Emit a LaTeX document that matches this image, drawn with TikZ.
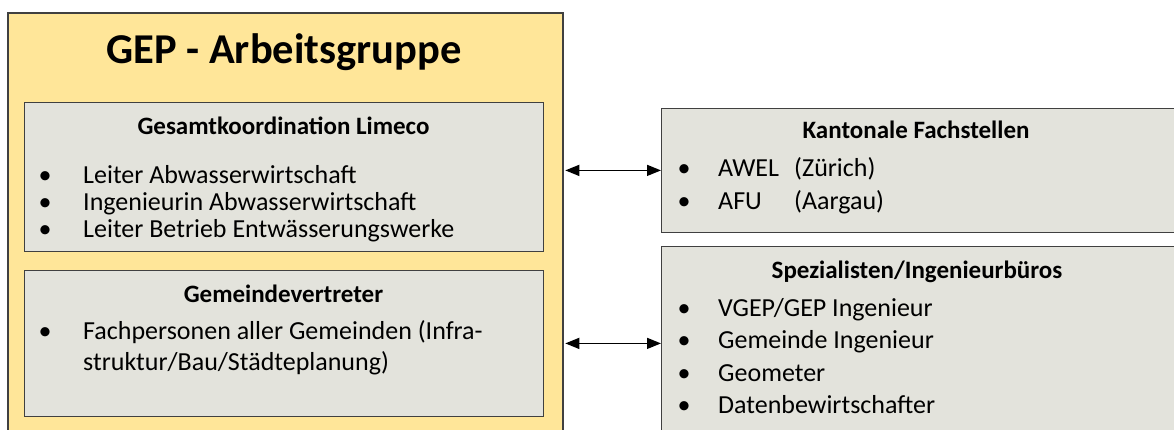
\documentclass[tikz,border=0pt]{standalone}
\usepackage{fontspec}
\setmainfont{Carlito}
\usetikzlibrary{arrows.meta}
\definecolor{gold}{HTML}{FFE699}
\definecolor{boxgray}{HTML}{E3E3DC}
\definecolor{edge}{HTML}{404040}
\begin{document}
\begin{tikzpicture}[x=1pt,y=-1pt,
  panel/.style={draw=edge, line width=1.4pt, fill=boxgray, anchor=north west, inner sep=0pt},
  group/.style={draw=edge, line width=1.8pt, fill=gold, anchor=north west, inner sep=0pt},
  titletext/.style={anchor=base, inner sep=0pt, font=\fontsize{42.5}{50}\selectfont\bfseries},
  headtext/.style={anchor=base, inner sep=0pt, font=\fontsize{25}{30}\selectfont\bfseries},
  itemtext/.style={anchor=base west, inner sep=0pt, font=\fontsize{26}{30}\selectfont},
  bullet/.style={anchor=base, inner sep=0pt, font=\fontsize{26}{30}\selectfont},
  link/.style={{Triangle[length=14pt,width=11pt]}-{Triangle[length=14pt,width=11pt]}, line width=1.4pt, draw=black}]
\useasboundingbox (0,0) rectangle (1174,430);
\clip (0,0) rectangle (1174,430);
\fill[white] (0,0) rectangle (1174,430);

% group box
\node[group, minimum width=555pt, minimum height=430pt] (gep) at (7,12) {};
\node[titletext] (title) at (284,63.5) {GEP - Arbeitsgruppe};

% Gesamtkoordination
\node[panel, minimum width=519pt, minimum height=149pt] (koord) at (24,102) {};
\node[headtext] (koordh) at (283.5,135) {Gesamtkoordination Limeco};
\node[bullet] (kb1) at (45,184) {•};
\node[itemtext] (k1) at (83,184) {Leiter Abwasserwirtschaft};
\node[bullet] (kb2) at (45,211) {•};
\node[itemtext] (k2) at (83,211) {Ingenieurin Abwasserwirtschaft};
\node[bullet] (kb3) at (45,238) {•};
\node[itemtext] (k3) at (83,238) {Leiter Betrieb Entwässerungswerke};

% Gemeindevertreter
\node[panel, minimum width=519pt, minimum height=146pt] (gem) at (24,270) {};
\node[headtext] (gemh) at (283.5,302.5) {Gemeindevertreter};
\node[bullet] (gb1) at (45,339) {•};
\node[itemtext] (g1) at (83,339) {Fachpersonen aller Gemeinden (Infra-};
\node[itemtext] (g2) at (83,370.5) {struktur/Bau/Städteplanung)};

% Kantonale Fachstellen
\node[panel, minimum width=520pt, minimum height=124pt] (kant) at (661,107.7) {};
\node[headtext] (kanth) at (916,139) {Kantonale Fachstellen};
\node[bullet] (ab1) at (684,177) {•};
\node[itemtext] (a1) at (718,177) {\makebox[76pt][l]{AWEL}(Zürich)};
\node[bullet] (ab2) at (684,210) {•};
\node[itemtext] (a2) at (718,210) {\makebox[76pt][l]{AFU}(Aargau)};

% Spezialisten
\node[panel, minimum width=520pt, minimum height=194pt] (spez) at (661,245.7) {};
\node[headtext] (spezh) at (917,278) {Spezialisten/Ingenieurbüros};
\node[bullet] (sb1) at (684,316) {•};
\node[itemtext] (s1) at (718,316) {VGEP/GEP Ingenieur};
\node[bullet] (sb2) at (684,348.5) {•};
\node[itemtext] (s2) at (718,348.5) {Gemeinde Ingenieur};
\node[bullet] (sb3) at (684,381) {•};
\node[itemtext] (s3) at (718,381) {Geometer};
\node[bullet] (sb4) at (684,413.5) {•};
\node[itemtext] (s4) at (718,413.5) {Datenbewirtschafter};

% connectors
\draw[link] ([xshift=1.5pt]gep.east |- kant.west) -- (kant.west);
\draw[link] ([xshift=1.5pt]gep.east |- spez.west) -- (spez.west);
\end{tikzpicture}
\end{document}
